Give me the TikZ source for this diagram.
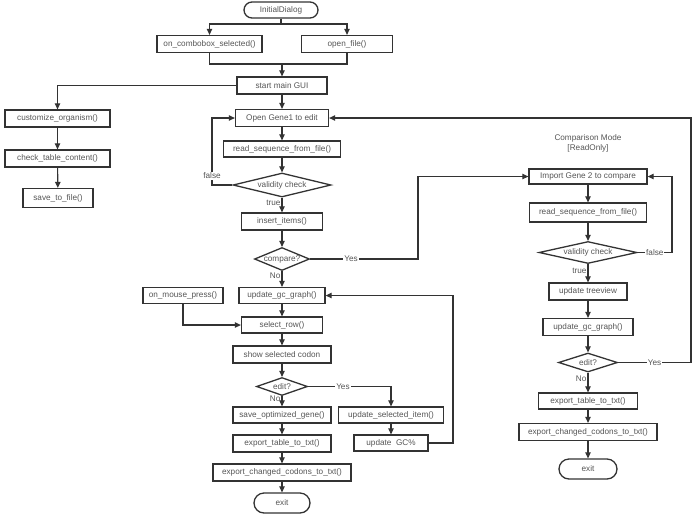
\documentclass[tikz,border=0pt]{standalone}
\usepackage{fontspec}
\setmainfont{Liberation Sans}
\usetikzlibrary{shapes.geometric,arrows.meta}
\definecolor{boxline}{HTML}{333333}
\definecolor{txtgray}{HTML}{555555}

\begin{document}
\begin{tikzpicture}[x=1pt, y=-1pt, >={Triangle[length=6pt,width=5.5pt]},
  every node/.style={font=\fontsize{8.2}{10}\selectfont, text=txtgray},
  proc/.style={draw=boxline, line width=1.3pt, minimum height=17pt, inner sep=0pt},
  term/.style={proc, rounded corners=8pt},
  cond/.style={diamond, draw=boxline, line width=1.3pt, inner sep=0pt, aspect=4},
  flow/.style={->, draw=boxline, line width=1.1pt},
  lbl/.style={fill=white, inner sep=1pt}]
  \useasboundingbox (0,0) rectangle (696,515);

  % Start and first choice
  \node[term, minimum width=74pt, minimum height=16pt] (init) at (281,10) {InitialDialog};
  \node[proc, minimum width=105pt] (combo) at (209.5,44) {on\_combobox\_selected()};
  \node[proc, minimum width=91pt] (openfile) at (347,44) {open\_file()};
  \node[proc, minimum width=90pt] (gui) at (282,85.5) {start main GUI};
  \coordinate (split1) at (281,24);
  \coordinate (join1) at (282,64);

  % Organism table branch
  \node[proc, minimum width=105pt] (custom) at (57.5,118.5) {customize\_organism()};
  \node[proc, minimum width=105pt] (checktab) at (57.5,158.5) {check\_table\_content()};
  \node[proc, minimum width=70pt, minimum height=19pt] (savefile) at (58,198) {save\_to\_file()};

  % Edit mode (main column)
  \node[proc, minimum width=93pt] (open1) at (282,118) {Open Gene1 to edit};
  \node[proc, minimum width=117pt, minimum height=16pt] (read1) at (282,149) {read\_sequence\_from\_file()};
  \node[cond, minimum width=98pt, minimum height=24pt] (valid1) at (282,185) {validity check};
  \node[proc, minimum width=81pt] (insert) at (282,221.5) {insert\_items()};
  \node[cond, aspect=2.5, minimum width=53pt, minimum height=23pt] (compare) at (282,259) {compare?};
  \node[proc, minimum width=86pt, minimum height=16pt] (gc1) at (282,295.5) {update\_gc\_graph()};
  \node[proc, minimum width=80pt, minimum height=16pt] (mouse) at (183,295.5) {on\_mouse\_press()};
  \node[proc, minimum width=81pt, minimum height=16pt] (selrow) at (282,325) {select\_row()};
  \node[proc, minimum width=98pt] (showcodon) at (282,354.5) {show selected codon};
  \node[cond, aspect=3, minimum width=51pt, minimum height=18pt] (edit1) at (282,386.5) {edit?};
  \node[proc, minimum width=98pt, minimum height=16pt] (saveopt) at (282,415) {save\_optimized\_gene()};
  \node[proc, minimum width=98pt] (export1) at (282,443.5) {export\_table\_to\_txt()};
  \node[proc, minimum width=138pt] (changed1) at (282,472.5) {export\_changed\_codons\_to\_txt()};
  \node[term, minimum width=56pt, minimum height=20pt, rounded corners=10pt] (exit1) at (282,503) {exit};
  \node[proc, minimum width=105pt, minimum height=16pt] (updsel) at (391,415) {update\_selected\_item()};
  \node[proc, minimum width=74pt, minimum height=16pt] (updgc) at (391,443) {update\ \ GC\%};

  % Comparison mode (right column)
  \node[align=center] (title) at (588,143.5) {Comparison Mode\\{}[ReadOnly]};
  \node[proc, minimum width=118pt, minimum height=15pt] (import2) at (588,176.5) {Import Gene 2 to compare};
  \node[proc, minimum width=117pt, minimum height=19pt] (read2) at (588,212.5) {read\_sequence\_from\_file()};
  \node[cond, minimum width=98pt, minimum height=22pt] (valid2) at (588,252.5) {validity check};
  \node[proc, minimum width=78pt] (tree) at (588,291.5) {update treeview};
  \node[proc, minimum width=90pt] (gc2) at (588,327) {update\_gc\_graph()};
  \node[cond, aspect=3, minimum width=59pt, minimum height=19pt] (edit2) at (588,362.5) {edit?};
  \node[proc, minimum width=99pt, minimum height=16pt] (export2) at (588,401) {export\_table\_to\_txt()};
  \node[proc, minimum width=138pt] (changed2) at (588,432) {export\_changed\_codons\_to\_txt()};
  \node[term, minimum width=58pt, minimum height=20pt, rounded corners=10pt] (exit2) at (588,469) {exit};

  % Bend points
  \coordinate (fbend1) at (212,185);
  \coordinate (ybend1) at (418,259);
  \coordinate (gcbend) at (453,443);
  \coordinate (fbend2) at (672,252.5);
  \coordinate (ebend) at (691,362.5);

  % Connectors: start
  \draw[draw=boxline, line width=1.1pt] (init) -- (split1);
  \draw[flow] (split1) -| (combo);
  \draw[flow] (split1) -| (openfile);
  \draw[draw=boxline, line width=1.1pt] (combo.south) |- (join1) -| (openfile.south);
  \draw[flow] (join1) -- (gui);
  \draw[flow] (gui.west) -| (custom);
  \draw[flow] (gui) -- (open1);
  \draw[flow] (custom) -- (checktab);
  \draw[flow] (checktab) -- (savefile);

  % Connectors: edit mode
  \draw[flow] (open1) -- (read1);
  \draw[flow] (read1) -- (valid1);
  \draw[flow] (valid1) -- node[left, pos=0.35, inner sep=1pt] {true} (insert);
  \draw[flow] (valid1.west) -- (fbend1) |- node[lbl, pos=0.07] {false} (open1.west);
  \draw[flow] (insert) -- (compare);
  \draw[flow] (compare.east) -- node[lbl, pos=0.38] {Yes} (ybend1) |- (import2.west);
  \draw[flow] (compare) -- node[left, pos=0.3, inner sep=1pt] {No} (gc1);
  \draw[flow] (gc1) -- (selrow);
  \draw[flow] (mouse.south) |- (selrow.west);
  \draw[flow] (selrow) -- (showcodon);
  \draw[flow] (showcodon) -- (edit1);
  \draw[flow] (edit1) -- node[left, pos=0.3, inner sep=1pt] {No} (saveopt);
  \draw[flow] (edit1.east) -| node[lbl, pos=0.21] {Yes} (updsel.north);
  \draw[flow] (updsel) -- (updgc);
  \draw[flow] (updgc.east) -- (gcbend) |- (gc1.east);
  \draw[flow] (saveopt) -- (export1);
  \draw[flow] (export1) -- (changed1);
  \draw[flow] (changed1) -- (exit1);

  % Connectors: comparison mode
  \draw[flow] (import2) -- (read2);
  \draw[flow] (read2) -- (valid2);
  \draw[flow] (valid2.east) -- node[lbl] {false} (fbend2) |- (import2.east);
  \draw[flow] (valid2) -- node[left, pos=0.35, inner sep=1pt] {true} (tree);
  \draw[flow] (tree) -- (gc2);
  \draw[flow] (gc2) -- (edit2);
  \draw[flow] (edit2.east) -- node[lbl] {Yes} (ebend) |- (open1.east);
  \draw[flow] (edit2) -- node[left, pos=0.3, inner sep=1pt] {No} (export2);
  \draw[flow] (export2) -- (changed2);
  \draw[flow] (changed2) -- (exit2);
\end{tikzpicture}
\end{document}
